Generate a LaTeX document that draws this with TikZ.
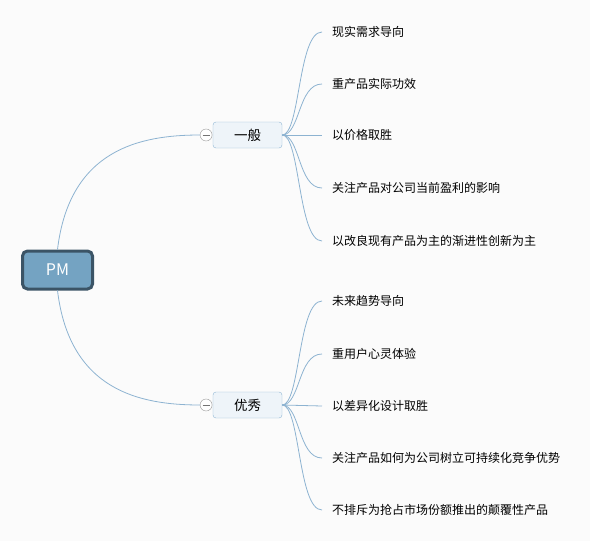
\documentclass[tikz,border=0pt]{standalone}
\usepackage{fontspec}
\setmainfont{Noto Sans CJK SC}
\usepackage{tikz}
\usetikzlibrary{positioning}
\definecolor{bgcol}{HTML}{FBFBFB}
\definecolor{rootfill}{HTML}{74A3C2}
\definecolor{rootline}{HTML}{3B5466}
\definecolor{subfill}{HTML}{EEF4F9}
\definecolor{subline}{HTML}{8FB6D4}
\definecolor{linkcol}{HTML}{8DB3D1}
\tikzstyle{rootbox} = [rectangle, rounded corners=5pt, minimum width=70pt, minimum height=38pt, line width=3pt, draw=rootline, fill=rootfill, text=white, font=\fontsize{16}{16}\selectfont]
\tikzstyle{subbox} = [rectangle, rounded corners=3pt, minimum width=69pt, minimum height=26pt, draw=subline, fill=subfill, text=black, font=\fontsize{13.5}{13.5}\selectfont]
\tikzstyle{fold} = [circle, minimum size=12pt, inner sep=0pt, draw=black!40, fill=white, path picture={\draw[black!55] ([xshift=2.5pt]path picture bounding box.west) -- ([xshift=-2.5pt]path picture bounding box.east);}]
\tikzstyle{leaf} = [anchor=west, inner sep=0pt, text=black, font=\fontsize{12}{12}\selectfont]
\tikzstyle{link} = [linkcol, line width=0.8pt]

\begin{document}
\begin{tikzpicture}[x=1pt, y=-1pt]

    \fill[bgcol] (0,0) rectangle (590,541);
    \useasboundingbox (0,0) rectangle (590,541);

    \node (pm) [rootbox] at (57.5,270) {PM};
    \node (gen) [subbox] at (247.5,135) {一般};
    \node (exc) [subbox] at (247.5,405) {优秀};
    \node (genc) [fold, left=0.5pt of gen] {};
    \node (excc) [fold, left=0.5pt of exc] {};

    % leaves of 一般
    \node (g1) [leaf] at (332,32) {现实需求导向};
    \node (g2) [leaf] at (332,84) {重产品实际功效};
    \node (g3) [leaf] at (332,135) {以价格取胜};
    \node (g4) [leaf] at (332,188) {关注产品对公司当前盈利的影响};
    \node (g5) [leaf] at (332,241) {以改良现有产品为主的渐进性创新为主};

    % leaves of 优秀
    \node (e1) [leaf] at (332,301) {未来趋势导向};
    \node (e2) [leaf] at (332,354) {重用户心灵体验};
    \node (e3) [leaf] at (332,406) {以差异化设计取胜};
    \node (e4) [leaf] at (332,458) {关注产品如何为公司树立可持续化竞争优势};
    \node (e5) [leaf] at (332,510) {不排斥为抢占市场份额推出的颠覆性产品};

    \draw [link] (pm.north) .. controls +(12,-100) and +(-60,0) .. (genc.west);
    \draw [link] (pm.south) .. controls +(12,100) and +(-60,0) .. (excc.west);

    \draw [link] (gen.east) .. controls +(18,0) and +(-24,0) .. ([xshift=-10pt]g1.west);
    \draw [link] (gen.east) .. controls +(18,0) and +(-24,0) .. ([xshift=-10pt]g2.west);
    \draw [link] (gen.east) -- ([xshift=-10pt]g3.west);
    \draw [link] (gen.east) .. controls +(18,0) and +(-24,0) .. ([xshift=-10pt]g4.west);
    \draw [link] (gen.east) .. controls +(18,0) and +(-24,0) .. ([xshift=-10pt]g5.west);

    \draw [link] (exc.east) .. controls +(18,0) and +(-24,0) .. ([xshift=-10pt]e1.west);
    \draw [link] (exc.east) .. controls +(18,0) and +(-24,0) .. ([xshift=-10pt]e2.west);
    \draw [link] (exc.east) -- ([xshift=-10pt]e3.west);
    \draw [link] (exc.east) .. controls +(18,0) and +(-24,0) .. ([xshift=-10pt]e4.west);
    \draw [link] (exc.east) .. controls +(18,0) and +(-24,0) .. ([xshift=-10pt]e5.west);

\end{tikzpicture}
\end{document}
